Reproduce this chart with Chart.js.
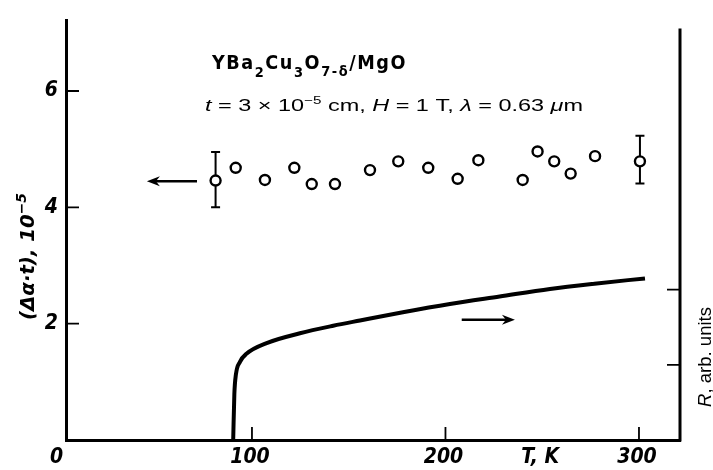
<!DOCTYPE html>
<html>
<head>
<meta charset="utf-8">
<script src="https://cdn.jsdelivr.net/npm/chart.js@4.4.0/dist/chart.umd.min.js"></script>
<style>
  html, body { margin: 0; padding: 0; background: #fff; }
  #wrap { width: 713px; height: 470px; }
</style>
</head>
<body>
<div id="wrap"><canvas id="chart"></canvas></div>
<script>
// 數據點（左軸 Δα·t）
const pointT = [81.2, 91.6, 106.7, 121.9, 130.9, 142.9, 161.0, 175.6, 191.1, 206.3, 217.0, 239.9, 247.6, 256.2, 264.7, 277.3, 300.5];
const pointV = [4.46, 4.68, 4.47, 4.68, 4.40, 4.40, 4.64, 4.79, 4.68, 4.49, 4.81, 4.47, 4.96, 4.79, 4.58, 4.88, 4.79];
const errLow  = [4.00, null, null, null, null, null, null, null, null, null, null, null, null, null, null, null, 4.41];
const errHigh = [4.95, null, null, null, null, null, null, null, null, null, null, null, null, null, null, null, 5.23];

// 電阻曲線（右軸 R）
const curveT = [90.3, 90.9, 91.7, 93.8, 97.3, 107.6, 124.8, 142.0, 155.8, 178.0, 202.3, 228.0, 254.0, 277.0, 303.1];
const curveR = [0, 0.61, 0.87, 1.04, 1.15, 1.29, 1.42, 1.52, 1.59, 1.70, 1.81, 1.91, 2.01, 2.08, 2.15];

// 刻度
const xTicks = [0, 100, 200, 250, 300];
const xLabels = ['0', '100', '200', 'T, K', '300'];
const xMarks = [100, 200, 300];
const yTicks = [2, 4, 6];
const rTicks = [1, 2];

const NARROW = '"DejaVu Sans Condensed", "Liberation Sans Narrow", sans-serif';
const SANS = '"Liberation Sans", Arial, sans-serif';

function drawRuns(ctx, x, y, runs, width) {
  let total = 0;
  runs.forEach(r => { ctx.font = r.f; total += ctx.measureText(r.t).width; });
  const k = width ? width / total : 1;
  ctx.save();
  ctx.translate(x, y);
  ctx.scale(k, 1);
  let cx = 0;
  runs.forEach(r => {
    ctx.font = r.f;
    ctx.fillText(r.t, cx, r.dy || 0);
    cx += ctx.measureText(r.t).width;
  });
  ctx.restore();
}

function drawArrow(ctx, x0, x1, y) {
  const dir = x1 > x0 ? 1 : -1;
  ctx.beginPath();
  ctx.moveTo(x0, y);
  ctx.lineTo(x1 - dir * 6, y);
  ctx.lineWidth = 2.5;
  ctx.stroke();
  ctx.beginPath();
  ctx.moveTo(x1, y);
  ctx.lineTo(x1 - dir * 13, y - 5);
  ctx.lineTo(x1 - dir * 9, y);
  ctx.lineTo(x1 - dir * 13, y + 5);
  ctx.closePath();
  ctx.fill();
}

const extras = {
  id: 'extras',
  beforeDatasetsDraw(chart) {
    const { ctx, scales: { x, y } } = chart;
    ctx.save();
    ctx.strokeStyle = '#000';
    ctx.lineWidth = 2;
    pointT.forEach((t, i) => {
      if (errLow[i] == null) return;
      const px = x.getPixelForValue(t);
      const y0 = y.getPixelForValue(errLow[i]);
      const y1 = y.getPixelForValue(errHigh[i]);
      ctx.beginPath();
      ctx.moveTo(px, y0); ctx.lineTo(px, y1);
      ctx.moveTo(px - 4.5, y0); ctx.lineTo(px + 4.5, y0);
      ctx.moveTo(px - 4.5, y1); ctx.lineTo(px + 4.5, y1);
      ctx.stroke();
    });
    ctx.restore();
  },
  afterDraw(chart) {
    const { ctx, chartArea: a, scales: { x, y, y2 } } = chart;
    ctx.save();
    ctx.strokeStyle = '#000';
    ctx.fillStyle = '#000';

    // 刻度線（向內）
    ctx.lineWidth = 1.8;
    ctx.beginPath();
    xMarks.forEach(v => {
      const px = x.getPixelForValue(v);
      ctx.moveTo(px, a.bottom); ctx.lineTo(px, a.bottom - 13);
    });
    yTicks.forEach(v => {
      const py = y.getPixelForValue(v);
      ctx.moveTo(a.left, py); ctx.lineTo(a.left + 13, py);
    });
    rTicks.forEach(v => {
      const py = y2.getPixelForValue(v);
      ctx.moveTo(a.right, py); ctx.lineTo(a.right - 13, py);
    });
    ctx.stroke();

    // 右軸
    ctx.lineWidth = 3;
    ctx.beginPath();
    ctx.moveTo(a.right, a.top + 8);
    ctx.lineTo(a.right, a.bottom + 1.5);
    ctx.stroke();

    // 箭頭
    drawArrow(ctx, x.getPixelForValue(71.6), x.getPixelForValue(45.7), y.getPixelForValue(4.45));
    drawArrow(ctx, x.getPixelForValue(208.4), x.getPixelForValue(235.9), y2.getPixelForValue(1.60));

    ctx.textAlign = 'left';
    ctx.textBaseline = 'alphabetic';

    // 標題
    ctx.letterSpacing = '1.5px';
    const tb = 'bold 19px ' + NARROW;
    const ts = 'bold 14px ' + NARROW;
    drawRuns(ctx, 212, 69, [
      { t: 'YBa', f: tb }, { t: '2', f: ts, dy: 8 },
      { t: 'Cu', f: tb }, { t: '3', f: ts, dy: 8 },
      { t: 'O', f: tb }, { t: '7-δ', f: ts, dy: 7 },
      { t: '/MgO', f: tb }
    ], 195);
    ctx.letterSpacing = '0px';

    // 參數
    const n = '17px ' + SANS, it = 'italic 17px ' + SANS, sup = '11px ' + SANS;
    drawRuns(ctx, 205, 111, [
      { t: 't', f: it }, { t: ' = 3 × 10', f: n }, { t: '−5', f: sup, dy: -7 },
      { t: ' cm, ', f: n }, { t: 'H', f: it }, { t: ' = 1 T, ', f: n },
      { t: 'λ', f: it }, { t: ' = 0.63 ', f: n }, { t: 'μ', f: it }, { t: 'm', f: n }
    ], 378);

    // 左軸標題
    ctx.save();
    ctx.translate(34, 320);
    ctx.rotate(-Math.PI / 2);
    drawRuns(ctx, 0, 0, [
      { t: '(Δα·t), 10', f: 'italic bold 20px ' + NARROW },
      { t: '−5', f: 'italic bold 14px ' + NARROW, dy: -8 }
    ], 127);
    ctx.restore();

    // 右軸標題
    ctx.save();
    ctx.translate(711, 407);
    ctx.rotate(-Math.PI / 2);
    drawRuns(ctx, 0, 0, [
      { t: 'R', f: 'italic 18px ' + SANS },
      { t: ', arb. units', f: '18px ' + SANS }
    ], 100);
    ctx.restore();

    ctx.restore();
  }
};

const tickFont = { family: NARROW, size: 21, style: 'italic', weight: 'bold' };

new Chart(document.getElementById('chart'), {
  type: 'scatter',
  data: {
    datasets: [{
      label: 'Δα·t',
      data: pointT.map((t, i) => ({ x: t, y: pointV[i] })),
      yAxisID: 'y',
      showLine: false,
      pointRadius: 5,
      pointBorderWidth: 2.4,
      pointBackgroundColor: '#fff',
      pointBorderColor: '#000'
    }, {
      label: 'R',
      data: curveT.map((t, i) => ({ x: t, y: curveR[i] })),
      yAxisID: 'y2',
      showLine: true,
      pointRadius: 0,
      borderColor: '#000',
      borderWidth: 4,
      cubicInterpolationMode: 'monotone'
    }]
  },
  options: {
    responsive: true,
    maintainAspectRatio: false,
    animation: false,
    layout: { padding: { top: 12 } },
    plugins: { legend: { display: false }, tooltip: { enabled: false } },
    scales: {
      x: {
        type: 'linear',
        min: 3.9,
        max: 321.2,
        afterBuildTicks: s => { s.ticks = xTicks.map(v => ({ value: v })); },
        afterFit: s => { s.height = 30; },
        grid: { display: false, drawTicks: false },
        border: { display: true, color: '#000', width: 3 },
        ticks: {
          color: '#000',
          font: tickFont,
          padding: 5,
          labelOffset: -2,
          maxRotation: 0,
          autoSkip: false,
          callback: v => xLabels[xTicks.indexOf(v)]
        }
      },
      y: {
        position: 'left',
        min: 0,
        max: 7.21,
        afterBuildTicks: s => { s.ticks = yTicks.map(v => ({ value: v })); },
        afterFit: s => { s.width = 66; },
        grid: { display: false, drawTicks: false },
        border: { display: true, color: '#000', width: 3 },
        ticks: { color: '#000', font: tickFont, padding: 8, callback: v => String(v) }
      },
      y2: {
        position: 'right',
        min: 0,
        max: 5.58,
        afterFit: s => { s.width = 33; },
        grid: { display: false, drawTicks: false },
        border: { display: false },
        ticks: { display: false }
      }
    }
  },
  plugins: [extras]
});
</script>
</body>
</html>
